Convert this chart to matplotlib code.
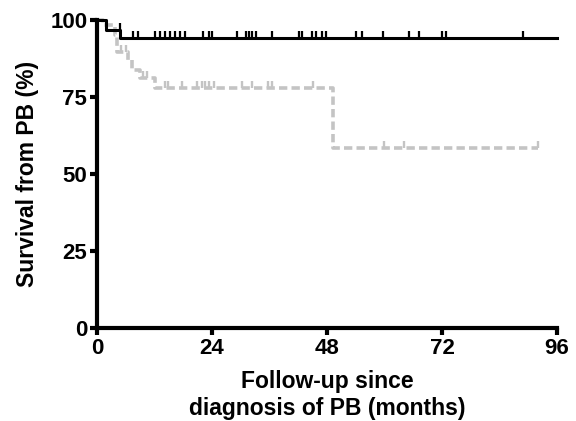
import numpy as np
import matplotlib
matplotlib.use("Agg")
import matplotlib.pyplot as plt

plt.rcParams['font.family'] = ['Liberation Sans', 'DejaVu Sans']
plt.rcParams['font.weight'] = 'bold'
plt.rcParams['lines.scale_dashes'] = False

# Black group (Kaplan-Meier steps)
black_times = [0, 1.8, 4.9]
black_surv = [100, 96.8, 94.3]
black_end = 96
black_censor = [4.8, 7.6, 8.6, 12.1, 13.2, 14.2, 15.3, 16.3, 17.4, 18.4, 22.2, 23.3,
                24.0, 29.2, 31.0, 31.7, 32.4, 33.1, 36.5, 42.1, 42.8, 44.9, 45.6,
                47.0, 47.7, 54.0, 55.4, 59.6, 65.1, 67.2, 72.1, 72.8, 88.8]

# Gray group
gray_times = [0, 1.3, 3.8, 4.2, 6.5, 7.3, 9.0, 12.1, 49.2]
gray_surv = [100, 98.3, 95.0, 89.6, 87.0, 83.8, 81.2, 77.9, 58.5]
gray_end = 92
gray_censor = [5.0, 6.0, 9.6, 10.4, 14.2, 14.9, 17.7, 20.8, 21.9, 22.6, 23.3, 24.5,
               30.3, 32.4, 35.6, 36.6, 45.1, 60.0, 64.0, 92.0]

xticks = [0, 24, 48, 72, 96]
yticks = [0, 25, 50, 75, 100]


def step_value(times, surv, t):
    idx = np.searchsorted(times, t, side='right') - 1
    return np.asarray(surv)[idx]


fig = plt.figure(figsize=(5.76, 4.21), dpi=100)
ax = fig.add_axes([97/576, 1-328/421, (557-97)/576, (328-20)/421])

tick_h = 2.2

# gray curve
gx = list(gray_times) + [gray_end]
gy = list(gray_surv) + [gray_surv[-1]]
ax.step(gx, gy, where='post', color='#c4c4c4', lw=2.6, dashes=(6, 3),
        clip_on=False, zorder=2)
gcy = step_value(gray_times, gray_surv, np.array(gray_censor))
ax.vlines(gray_censor, gcy, gcy + tick_h, color='#c4c4c4', lw=1.7, clip_on=False, zorder=2)

# black curve
bx = list(black_times) + [black_end]
by = list(black_surv) + [black_surv[-1]]
ax.step(bx, by, where='post', color='black', lw=2.2, clip_on=False, zorder=3)
bcy = step_value(black_times, black_surv, np.array(black_censor))
ax.vlines(black_censor, bcy, bcy + tick_h, color='black', lw=1.6, clip_on=False, zorder=3)

ax.set_xlim(0, 96)
ax.set_ylim(0, 100)
ax.set_xticks(xticks)
ax.set_yticks(yticks)
ax.tick_params(axis='both', width=3, length=5, labelsize=16, pad=2, direction='out')
for lab in ax.get_xticklabels() + ax.get_yticklabels():
    lab.set_fontweight('bold')

for s in ['top', 'right']:
    ax.spines[s].set_visible(False)
for s in ['left', 'bottom']:
    ax.spines[s].set_linewidth(3)

ax.set_xlabel('Follow-up since\ndiagnosis of PB (months)', fontsize=16.5, fontweight='bold',
              labelpad=8, linespacing=1.25)
ax.set_ylabel('Survival from PB (%)', fontsize=16.5, fontweight='bold', labelpad=8)

fig.savefig('out.png', dpi=100)
